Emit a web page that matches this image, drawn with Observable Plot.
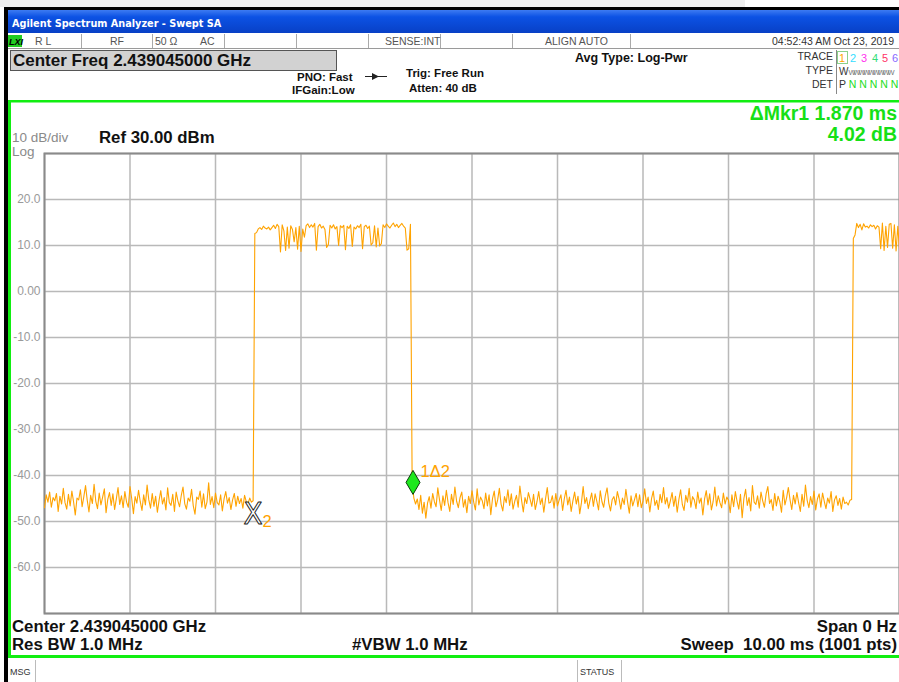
<!DOCTYPE html>
<html>
<head>
<meta charset="utf-8">
<script src="https://cdn.jsdelivr.net/npm/d3@7"></script>
<script src="https://cdn.jsdelivr.net/npm/@observablehq/plot@0.6"></script>
<style>
  html, body { margin: 0; padding: 0; background: #fff; }
  #page { position: relative; width: 899px; height: 682px; overflow: hidden; background: #fff; }
  #chrome { position: absolute; left: 0; top: 0; }
  #plot { position: absolute; left: 12px; top: 140px; }
</style>
</head>
<body>
<div id="page">
<svg id="chrome" width="899" height="682" font-family="'Liberation Sans', Arial, sans-serif">
  <defs>
    <linearGradient id="tb" x1="0" y1="0" x2="0" y2="1">
      <stop offset="0" stop-color="#3d7bf2"/>
      <stop offset="0.3" stop-color="#0c52e4"/>
      <stop offset="1" stop-color="#0840c6"/>
    </linearGradient>
  </defs>
  <rect x="0" y="0" width="899" height="682" fill="#fff"/>
  <rect x="0" y="0" width="745" height="7" fill="#efefef"/>
  <rect x="4" y="7" width="895" height="3" fill="#000"/>
  <rect x="4" y="7" width="4" height="675" fill="#000"/>
  <rect x="8" y="10" width="891" height="23" fill="url(#tb)"/>
  <text x="12" y="27" fill="#fff" font-weight="bold" font-size="10.8" font-family="'DejaVu Sans Condensed', 'Liberation Sans', sans-serif">Agilent Spectrum Analyzer - Swept SA</text>

  <!-- status row -->
  <rect x="8" y="33" width="891" height="16" fill="#fff"/>
  <line x1="8" y1="48.5" x2="899" y2="48.5" stroke="#9a9a9a"/>
  <g stroke="#aaa">
    <line x1="81.5" y1="34" x2="81.5" y2="48"/>
    <line x1="152.5" y1="34" x2="152.5" y2="48"/>
    <line x1="224.5" y1="34" x2="224.5" y2="48"/>
    <line x1="296.5" y1="34" x2="296.5" y2="48"/>
    <line x1="368.5" y1="34" x2="368.5" y2="48"/>
    <line x1="440.5" y1="34" x2="440.5" y2="48"/>
    <line x1="512.5" y1="34" x2="512.5" y2="48"/>
    <line x1="630.5" y1="34" x2="630.5" y2="48"/>
  </g>
  <rect x="8" y="35" width="14" height="12" fill="#22cc22"/>
  <text x="9" y="45" font-size="9" font-weight="bold" font-style="italic" fill="#000">LXI</text>
  <g font-size="10.5" fill="#555">
    <text x="35" y="45">R L</text>
    <text x="110" y="45">RF</text>
    <text x="155" y="45">50 Ω</text>
    <text x="200" y="45">AC</text>
    <text x="385" y="45">SENSE:INT</text>
    <text x="545" y="45">ALIGN AUTO</text>
    <text x="894" y="45" text-anchor="end" fill="#333">04:52:43 AM Oct 23, 2019</text>
  </g>

  <!-- center freq box -->
  <rect x="10.5" y="50.5" width="326" height="20" fill="#d2d2d2" stroke="#555"/>
  <text x="13" y="66" font-size="17" font-weight="bold" fill="#111">Center Freq 2.439045000 GHz</text>

  <g font-size="11.5" font-weight="bold" fill="#111">
    <text x="297" y="81">PNO: Fast</text>
    <text x="292" y="94">IFGain:Low</text>
    <text x="406" y="77">Trig: Free Run</text>
    <text x="409" y="92">Atten: 40 dB</text>
    <text x="575" y="62" font-size="12.5">Avg Type: Log-Pwr</text>
  </g>
  <line x1="365" y1="76.5" x2="387" y2="76.5" stroke="#222"/>
  <path d="M372 73 L379 76.5 L372 80 Z" fill="#222"/>

  <!-- trace block -->
  <g font-size="10.5" fill="#333" text-anchor="end">
    <text x="833" y="60">TRACE</text>
    <text x="833" y="74">TYPE</text>
    <text x="833" y="88">DET</text>
  </g>
  <line x1="836.5" y1="50" x2="836.5" y2="94" stroke="#888"/>
  <rect x="837.5" y="51.5" width="10" height="12" fill="none" stroke="#8bd18b"/>
  <g font-size="11">
    <text x="839" y="62" fill="#ffa500">1</text>
    <text x="850" y="62" fill="#33ddff">2</text>
    <text x="861" y="62" fill="#ff33ee">3</text>
    <text x="872" y="62" fill="#33dd77">4</text>
    <text x="882" y="62" fill="#ff3366">5</text>
    <text x="892" y="62" fill="#8866ff">6</text>
  </g>
  <text x="839" y="75" font-size="10" fill="#333">W<tspan font-size="7.5" fill="#777" letter-spacing="-2.2">WWWWWWWWW</tspan></text>
  <text x="839" y="88" font-size="10.5" fill="#333">P<tspan fill="#22dd22"> N N N N N</tspan></text>

  <!-- green frame -->
  <rect x="8" y="100" width="891" height="2.5" fill="#11ee11"/>
  <rect x="8" y="100" width="3" height="558" fill="#11ee11"/>
  <rect x="8" y="655" width="891" height="3" fill="#11ee11"/>

  <!-- marker readout -->
  <g font-size="19.5" font-weight="bold" fill="#16e016" text-anchor="end">
    <text x="897" y="120">ΔMkr1 1.870 ms</text>
    <text x="897" y="141">4.02 dB</text>
  </g>
  <text x="12" y="142" font-size="13.5" fill="#8a8a8a">10 dB/div</text>
  <text x="12" y="156" font-size="13.5" fill="#8a8a8a">Log</text>
  <text x="99" y="143" font-size="16.8" font-weight="bold" fill="#111">Ref 30.00 dBm</text>

  <!-- bottom readout -->
  <g font-size="16.8" font-weight="bold" fill="#111">
    <text x="12" y="632">Center 2.439045000 GHz</text>
    <text x="12" y="650">Res BW 1.0 MHz</text>
    <text x="352" y="650">#VBW 1.0 MHz</text>
    <text x="897" y="632" text-anchor="end">Span 0 Hz</text>
    <text x="897" y="650" text-anchor="end">Sweep&#160;&#160;10.00 ms (1001 pts)</text>
  </g>

  <!-- message bar -->
  <line x1="35.5" y1="660" x2="35.5" y2="682" stroke="#bbb"/>
  <line x1="577.5" y1="660" x2="577.5" y2="682" stroke="#bbb"/>
  <line x1="621.5" y1="660" x2="621.5" y2="682" stroke="#bbb"/>
  <g font-size="9" fill="#333">
    <text x="10" y="675">MSG</text>
    <text x="580" y="675">STATUS</text>
  </g>
</svg>
<div id="plot"></div>
</div>
<script>
const sweepStepMs = 0.02;

// noise floor before the first burst, t = 0.00 .. 2.42 ms
const noiseA = [
  -47.0,-44.2,-45.8,-43.6,-46.9,-44.8,-45.5,-43.9,-47.8,-44.5,
  -46.2,-42.8,-45.9,-47.3,-44.1,-46.6,-43.4,-45.7,-48.6,-44.9,
  -45.3,-43.1,-46.8,-44.6,-42.2,-45.4,-47.9,-44.3,-46.1,-41.9,
  -45.6,-47.2,-43.8,-46.4,-44.7,-42.9,-48.1,-45.2,-43.7,-46.5,
  -44.0,-47.4,-45.1,-42.6,-46.3,-44.4,-47.0,-43.5,-45.8,-46.9,
  -42.4,-45.0,-48.3,-44.6,-46.0,-43.2,-45.7,-47.6,-44.2,-46.4,
  -42.1,-45.3,-47.1,-43.9,-46.7,-44.5,-48.0,-45.4,-43.3,-46.2,
  -44.8,-47.5,-42.7,-45.9,-46.5,-44.1,-47.8,-43.6,-45.5,-46.8,
  -44.3,-42.5,-46.1,-47.3,-44.9,-45.6,-43.0,-46.6,-48.4,-44.7,
  -45.2,-43.4,-46.9,-44.0,-47.2,-45.8,-41.6,-46.3,-44.6,-47.0,
  -43.8,-45.9,-46.4,-44.2,-47.7,-45.1,-43.5,-46.0,-44.8,-47.4,
  -45.3,-43.9,-46.7,-44.5,-46.1,-45.0,-47.1,-44.3,-45.7,-46.2,
  -44.9,-45.8
];
// rising edge, t = 2.44, 2.46 ms
const riseEdgeA = [-45.5, 12.6];
// first burst, t = 2.48 .. 4.28 ms
const burst1 = [
  12.8,13.6,13.9,13.5,14.2,13.8,13.6,14.0,13.4,13.9,
  14.4,13.7,14.6,14.1,8.6,14.5,13.2,8.9,14.0,9.4,
  14.3,13.5,10.8,13.9,9.2,14.2,8.7,13.6,11.8,14.3,
  14.7,13.9,14.5,14.0,14.8,9.0,14.1,14.6,13.8,14.2,
  13.5,9.6,10.2,14.4,13.8,14.5,13.6,14.1,10.0,14.3,
  13.9,14.4,9.1,14.2,13.7,14.5,9.8,14.0,13.6,14.3,
  13.9,14.6,9.3,14.1,14.4,13.7,14.2,10.1,10.6,14.3,
  9.7,13.8,9.9,10.4,14.5,13.9,14.7,14.2,13.8,14.4,
  14.9,14.1,14.6,13.9,14.4,14.8,14.2,13.8,9.0,9.3,
  14.6
];
// falling edge, t = 4.30 ms
const fallEdge = [-41.5];
// noise floor between bursts, t = 4.32 .. 9.42 ms
const noiseB = [
  -44.9,-46.2,-45.1,-47.4,-44.3,-48.2,-45.8,-49.3,-46.0,-44.6,
  -47.1,-43.9,-45.7,-46.8,-42.7,-45.3,-47.6,-44.4,-46.5,-43.2,
  -45.9,-47.8,-44.1,-46.3,-42.5,-45.6,-47.0,-44.8,-43.6,-46.9,
  -45.2,-48.1,-44.5,-46.1,-43.3,-45.8,-47.5,-42.9,-46.4,-44.7,
  -45.5,-47.2,-43.8,-46.6,-44.2,-48.5,-45.0,-43.4,-46.8,-45.3,
  -42.8,-46.2,-47.7,-44.6,-45.9,-43.1,-46.5,-44.0,-47.3,-45.6,
  -44.3,-46.9,-42.3,-45.4,-47.9,-44.8,-46.1,-43.7,-45.2,-46.7,
  -44.1,-47.4,-45.7,-43.5,-46.3,-44.9,-48.0,-45.1,-42.6,-46.0,
  -45.8,-44.4,-47.1,-43.9,-46.6,-45.3,-44.2,-47.6,-45.0,-43.2,
  -46.4,-44.7,-47.8,-45.5,-43.6,-46.2,-44.5,-48.3,-45.9,-42.4,
  -46.1,-44.8,-47.2,-45.4,-43.8,-46.7,-44.0,-45.6,-47.5,-43.3,
  -45.7,-46.9,-44.3,-42.7,-46.0,-47.7,-45.2,-44.6,-46.4,-43.5,
  -45.1,-47.3,-44.9,-46.3,-43.0,-45.8,-48.2,-44.4,-46.6,-45.3,
  -43.9,-46.8,-44.2,-47.0,-45.6,-42.9,-46.1,-44.7,-47.9,-45.0,
  -43.4,-46.5,-45.4,-47.4,-44.1,-45.9,-42.6,-46.2,-44.8,-47.1,
  -45.5,-43.7,-46.7,-44.5,-48.0,-45.2,-43.1,-46.3,-47.6,-44.3,
  -45.8,-42.8,-46.9,-44.6,-45.3,-47.2,-43.6,-46.0,-44.9,-48.6,
  -45.1,-43.3,-46.4,-44.0,-47.5,-45.7,-42.5,-46.6,-44.4,-45.9,
  -47.0,-43.8,-46.2,-44.7,-45.4,-48.1,-44.2,-46.8,-43.5,-45.6,
  -47.3,-44.1,-49.2,-45.0,-43.0,-46.5,-44.8,-47.7,-42.2,-45.8,
  -46.3,-44.4,-47.1,-43.6,-45.5,-46.9,-44.0,-42.4,-46.1,-45.2,
  -47.6,-43.9,-46.6,-44.5,-45.7,-48.0,-43.2,-46.4,-44.8,-42.6,
  -45.3,-47.4,-44.3,-46.2,-43.7,-45.9,-47.8,-44.1,-46.7,-42.1,
  -45.4,-47.0,-44.6,-46.3,-43.4,-47.5,-45.1,-44.0,-46.9,-43.8,
  -45.6,-47.2,-44.9,-46.0,-43.5,-47.8,-45.3,-44.4,-46.5,-45.0,
  -47.3,-44.7,-46.1,-45.8,-46.4,-45.4
];
// last noise sample before the second burst, t = 9.44 ms
const riseEdgeB = [-45.2];
// second burst (cut off at the end of the sweep), t = 9.46 .. 10.00 ms
const burst2 = [
  11.5,12.3,14.8,13.9,14.6,13.4,14.7,14.0,14.2,13.8,
  14.5,14.1,14.4,13.6,14.3,14.0,9.3,14.9,8.9,14.2,
  9.6,14.6,14.8,9.4,14.5,8.8,14.2,9.2
];

// axes / grid
const xGridMs = [0, 1, 2, 3, 4, 5, 6, 7, 8, 9, 10];
const yGridDbm = [30, 20, 10, 0, -10, -20, -30, -40, -50, -60, -70];
const yTickValues = [20, 10, 0, -10, -20, -30, -40, -50, -60];
const yTickLabels = ["20.0", "10.0", "0.00", "-10.0", "-20.0", "-30.0", "-40.0", "-50.0", "-60.0"];

// markers
const markerNames = ["1", "2"];
const markerTimesMs = [4.31, 2.44];
const markerLevelsDbm = [-41.5, -45.52];

// ---- build tables ----
const traceValues = [...noiseA, ...riseEdgeA, ...burst1, ...fallEdge, ...noiseB, ...riseEdgeB, ...burst2];
const trace = traceValues.map((v, i) => ({t: +(i * sweepStepMs).toFixed(2), dbm: v}));
const markers = markerNames.map((n, i) => ({name: n, t: markerTimesMs[i], dbm: markerLevelsDbm[i]}));
const mkr1 = markers.filter(d => d.name === "1");
const mkr2 = markers.filter(d => d.name === "2");
const tickLabel = new Map(yTickValues.map((v, i) => [v, yTickLabels[i]]));

const tallDiamond = {
  draw(ctx) {
    ctx.moveTo(0, -12);
    ctx.lineTo(7, 0);
    ctx.lineTo(0, 12);
    ctx.lineTo(-7, 0);
    ctx.closePath();
  }
};

const chart = Plot.plot({
  width: 887,
  height: 475,
  marginLeft: 32,
  marginRight: 0,
  marginTop: 13,
  marginBottom: 2,
  style: {background: "transparent", overflow: "visible", fontFamily: "'Liberation Sans', Arial, sans-serif", fontSize: "12px"},
  x: {domain: [0, 10], axis: null},
  y: {domain: [-70, 30], axis: null},
  marks: [
    Plot.gridX(xGridMs, {stroke: "#b9b9b9", strokeOpacity: 1, strokeWidth: 1.5}),
    Plot.gridY(yGridDbm, {stroke: "#b9b9b9", strokeOpacity: 1, strokeWidth: 1.5}),
    Plot.axisY(yTickValues, {tickSize: 0, tickPadding: 4, tickFormat: d => tickLabel.get(d), fill: "#9a9a9a", fontSize: 12, label: null}),
    Plot.frame({stroke: "#8a8a8a", strokeWidth: 2}),
    Plot.line(trace, {x: "t", y: "dbm", stroke: "#ffa300", strokeWidth: 1.1}),
    Plot.text(mkr2, {x: "t", y: "dbm", text: () => "X", dy: 13.5, fontSize: 31,
      fontFamily: "'Liberation Sans Narrow', 'DejaVu Sans Condensed', sans-serif",
      fill: "white", stroke: "#222", strokeWidth: 1, paintOrder: "fill"}),
    Plot.text(mkr2, {x: "t", y: "dbm", text: "name", dx: 9.5, dy: 21, textAnchor: "start", fontSize: 16.5, fill: "#ffa300"}),
    Plot.dot(mkr1, {x: "t", y: "dbm", symbol: tallDiamond, fill: "#1ee81e", stroke: "#0c3c0c", strokeWidth: 1}),
    Plot.text(mkr1, {x: "t", y: "dbm", text: d => d.name + "Δ2", dx: 7.5, dy: -11, textAnchor: "start", fontSize: 16.5, fill: "#ffa300"})
  ]
});
document.getElementById("plot").appendChild(chart);
</script>
</body>
</html>
